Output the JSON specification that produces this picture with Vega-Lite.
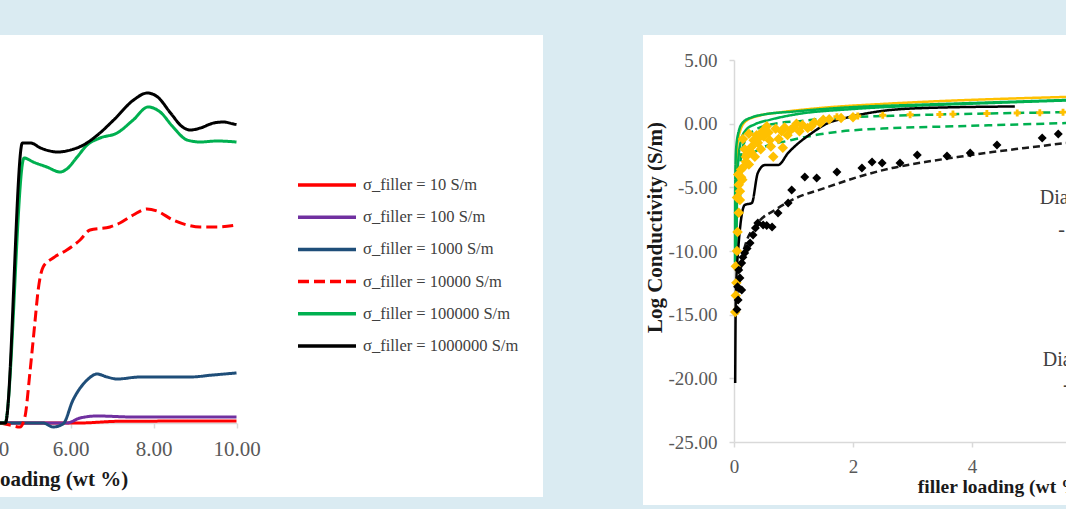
{
  "$schema": "https://vega.github.io/schema/vega-lite/v6.json",
  "background": "#daebf2",
  "padding": {"left": 0, "top": 35, "right": 0, "bottom": 4},
  "spacing": 100,
  "config": {
    "view": {"stroke": null, "fill": "white"},
    "font": "Liberation Serif",
    "axis": {"labelFont": "Liberation Serif", "titleFont": "Liberation Serif", "grid": false, "labelFlush": false, "domainColor": "#d9d9d9", "tickColor": "#d9d9d9", "labelColor": "#595959", "domainWidth": 1.5, "tickWidth": 1.5, "tickSize": 5}
  },
  "resolve": {"scale": {"color": "independent", "strokeDash": "independent", "x": "independent", "y": "independent"}},
  "hconcat": [
    {
      "width": 543,
      "height": 462,
      "layer": [
        {
          "data": {"values": [
            {"series": "σ_filler = 10 S/m", "x": 4.3, "y": -14},
            {"series": "σ_filler = 10 S/m", "x": 6.2, "y": -14},
            {"series": "σ_filler = 10 S/m", "x": 7.2, "y": -13.93},
            {"series": "σ_filler = 10 S/m", "x": 10, "y": -13.92},
            {"series": "σ_filler = 100 S/m", "x": 4.3, "y": -14},
            {"series": "σ_filler = 100 S/m", "x": 5.75, "y": -14},
            {"series": "σ_filler = 100 S/m", "x": 5.91, "y": -14},
            {"series": "σ_filler = 100 S/m", "x": 6.23, "y": -13.8},
            {"series": "σ_filler = 100 S/m", "x": 6.64, "y": -13.72},
            {"series": "σ_filler = 100 S/m", "x": 7.51, "y": -13.76},
            {"series": "σ_filler = 100 S/m", "x": 8.32, "y": -13.76},
            {"series": "σ_filler = 100 S/m", "x": 10, "y": -13.76},
            {"series": "σ_filler = 1000 S/m", "x": 4.3, "y": -14},
            {"series": "σ_filler = 1000 S/m", "x": 5.34, "y": -14},
            {"series": "σ_filler = 1000 S/m", "x": 5.58, "y": -14.16},
            {"series": "σ_filler = 1000 S/m", "x": 5.82, "y": -14.04},
            {"series": "σ_filler = 1000 S/m", "x": 6.06, "y": -13.08},
            {"series": "σ_filler = 1000 S/m", "x": 6.4, "y": -12.28},
            {"series": "σ_filler = 1000 S/m", "x": 6.64, "y": -12.04},
            {"series": "σ_filler = 1000 S/m", "x": 6.88, "y": -12.16},
            {"series": "σ_filler = 1000 S/m", "x": 7.12, "y": -12.24},
            {"series": "σ_filler = 1000 S/m", "x": 7.67, "y": -12.16},
            {"series": "σ_filler = 1000 S/m", "x": 8.32, "y": -12.16},
            {"series": "σ_filler = 1000 S/m", "x": 8.88, "y": -12.16},
            {"series": "σ_filler = 1000 S/m", "x": 9.43, "y": -12.08},
            {"series": "σ_filler = 1000 S/m", "x": 10, "y": -12.0},
            {"series": "σ_filler = 10000 S/m", "x": 4.3, "y": -14},
            {"series": "σ_filler = 10000 S/m", "x": 4.54, "y": -14.08},
            {"series": "σ_filler = 10000 S/m", "x": 4.78, "y": -14.16},
            {"series": "σ_filler = 10000 S/m", "x": 4.9, "y": -13.76},
            {"series": "σ_filler = 10000 S/m", "x": 5.02, "y": -12.0},
            {"series": "σ_filler = 10000 S/m", "x": 5.14, "y": -10.0},
            {"series": "σ_filler = 10000 S/m", "x": 5.22, "y": -8.68},
            {"series": "σ_filler = 10000 S/m", "x": 5.34, "y": -7.76},
            {"series": "σ_filler = 10000 S/m", "x": 5.58, "y": -7.4},
            {"series": "σ_filler = 10000 S/m", "x": 5.91, "y": -7.08},
            {"series": "σ_filler = 10000 S/m", "x": 6.23, "y": -6.68},
            {"series": "σ_filler = 10000 S/m", "x": 6.47, "y": -6.28},
            {"series": "σ_filler = 10000 S/m", "x": 6.95, "y": -6.16},
            {"series": "σ_filler = 10000 S/m", "x": 7.19, "y": -6.0},
            {"series": "σ_filler = 10000 S/m", "x": 7.51, "y": -5.68},
            {"series": "σ_filler = 10000 S/m", "x": 7.84, "y": -5.44},
            {"series": "σ_filler = 10000 S/m", "x": 8.08, "y": -5.52},
            {"series": "σ_filler = 10000 S/m", "x": 8.47, "y": -5.88},
            {"series": "σ_filler = 10000 S/m", "x": 8.81, "y": -6.08},
            {"series": "σ_filler = 10000 S/m", "x": 9.12, "y": -6.16},
            {"series": "σ_filler = 10000 S/m", "x": 9.53, "y": -6.16},
            {"series": "σ_filler = 10000 S/m", "x": 10, "y": -6.08},
            {"series": "σ_filler = 100000 S/m", "x": 4.3, "y": -14},
            {"series": "σ_filler = 100000 S/m", "x": 4.42, "y": -14},
            {"series": "σ_filler = 100000 S/m", "x": 4.88, "y": -3.4},
            {"series": "σ_filler = 100000 S/m", "x": 5.1, "y": -3.56},
            {"series": "σ_filler = 100000 S/m", "x": 5.43, "y": -3.76},
            {"series": "σ_filler = 100000 S/m", "x": 5.75, "y": -3.96},
            {"series": "σ_filler = 100000 S/m", "x": 5.91, "y": -3.84},
            {"series": "σ_filler = 100000 S/m", "x": 6.16, "y": -3.36},
            {"series": "σ_filler = 100000 S/m", "x": 6.4, "y": -2.88},
            {"series": "σ_filler = 100000 S/m", "x": 6.71, "y": -2.6},
            {"series": "σ_filler = 100000 S/m", "x": 7.12, "y": -2.4},
            {"series": "σ_filler = 100000 S/m", "x": 7.51, "y": -1.88},
            {"series": "σ_filler = 100000 S/m", "x": 7.87, "y": -1.36},
            {"series": "σ_filler = 100000 S/m", "x": 8.16, "y": -1.56},
            {"series": "σ_filler = 100000 S/m", "x": 8.47, "y": -2.16},
            {"series": "σ_filler = 100000 S/m", "x": 8.81, "y": -2.68},
            {"series": "σ_filler = 100000 S/m", "x": 9.12, "y": -2.76},
            {"series": "σ_filler = 100000 S/m", "x": 9.53, "y": -2.72},
            {"series": "σ_filler = 100000 S/m", "x": 10, "y": -2.76},
            {"series": "σ_filler = 1000000 S/m", "x": 4.3, "y": -14},
            {"series": "σ_filler = 1000000 S/m", "x": 4.43, "y": -14},
            {"series": "σ_filler = 1000000 S/m", "x": 4.84, "y": -2.8},
            {"series": "σ_filler = 1000000 S/m", "x": 5.04, "y": -2.8},
            {"series": "σ_filler = 1000000 S/m", "x": 5.28, "y": -3.0},
            {"series": "σ_filler = 1000000 S/m", "x": 5.69, "y": -3.16},
            {"series": "σ_filler = 1000000 S/m", "x": 6.0, "y": -3.08},
            {"series": "σ_filler = 1000000 S/m", "x": 6.31, "y": -2.88},
            {"series": "σ_filler = 1000000 S/m", "x": 6.65, "y": -2.48},
            {"series": "σ_filler = 1000000 S/m", "x": 7.04, "y": -1.88},
            {"series": "σ_filler = 1000000 S/m", "x": 7.52, "y": -1.08},
            {"series": "σ_filler = 1000000 S/m", "x": 7.85, "y": -0.8},
            {"series": "σ_filler = 1000000 S/m", "x": 8.1, "y": -0.96},
            {"series": "σ_filler = 1000000 S/m", "x": 8.41, "y": -1.6},
            {"series": "σ_filler = 1000000 S/m", "x": 8.7, "y": -2.16},
            {"series": "σ_filler = 1000000 S/m", "x": 8.89, "y": -2.28},
            {"series": "σ_filler = 1000000 S/m", "x": 9.13, "y": -2.2},
            {"series": "σ_filler = 1000000 S/m", "x": 9.45, "y": -2.0},
            {"series": "σ_filler = 1000000 S/m", "x": 9.69, "y": -1.96},
            {"series": "σ_filler = 1000000 S/m", "x": 9.93, "y": -2.04},
            {"series": "σ_filler = 1000000 S/m", "x": 10, "y": -2.06}
          ]},
          "mark": {"type": "line", "strokeWidth": 3, "interpolate": "monotone", "clip": true},
          "encoding": {
            "x": {"field": "x", "type": "quantitative", "scale": {"domain": [4.3, 10], "range": [0, 236.5], "nice": false, "zero": false},
                  "axis": {"values": [6, 8, 10], "format": ".2f", "offset": -74, "labelFontSize": 21, "labelPadding": 10, "title": null}},
            "y": {"field": "y", "type": "quantitative", "scale": {"domain": [-14, 0], "range": [388, 38], "nice": false, "zero": false}, "axis": null},
            "color": {"field": "series", "type": "nominal",
                      "sort": ["σ_filler = 10 S/m", "σ_filler = 100 S/m", "σ_filler = 1000 S/m", "σ_filler = 10000 S/m", "σ_filler = 100000 S/m", "σ_filler = 1000000 S/m"],
                      "scale": {"domain": ["σ_filler = 10 S/m", "σ_filler = 100 S/m", "σ_filler = 1000 S/m", "σ_filler = 10000 S/m", "σ_filler = 100000 S/m", "σ_filler = 1000000 S/m"],
                                "range": ["#ff0000", "#7030a0", "#1f4e79", "#ff0000", "#00b050", "#000000"]},
                      "legend": {"orient": "none", "legendX": 296, "legendY": 139, "title": null, "symbolType": "stroke", "symbolSize": 3364, "symbolStrokeWidth": 3.5, "labelFont": "Liberation Serif", "labelFontSize": 16.5, "labelColor": "#404040", "clipHeight": 22, "rowPadding": 10.2, "labelOffset": 5, "padding": 0, "labelLimit": 400}},
            "strokeDash": {"field": "series", "type": "nominal",
                      "sort": ["σ_filler = 10 S/m", "σ_filler = 100 S/m", "σ_filler = 1000 S/m", "σ_filler = 10000 S/m", "σ_filler = 100000 S/m", "σ_filler = 1000000 S/m"],
                      "scale": {"domain": ["σ_filler = 10 S/m", "σ_filler = 100 S/m", "σ_filler = 1000 S/m", "σ_filler = 10000 S/m", "σ_filler = 100000 S/m", "σ_filler = 1000000 S/m"],
                                "range": [[1, 0], [1, 0], [1, 0], [11, 5], [1, 0], [1, 0]]},
                      "legend": {"orient": "none", "legendX": 296, "legendY": 139, "title": null, "symbolType": "stroke", "symbolSize": 3364, "symbolStrokeWidth": 3.5, "labelFont": "Liberation Serif", "labelFontSize": 16.5, "labelColor": "#404040", "clipHeight": 22, "rowPadding": 10.2, "labelOffset": 5, "padding": 0, "labelLimit": 400}}
          }
        },
        {
          "data": {"values": [{"x": 3.0, "y": -16.28, "label": "filler loading (wt %)"}]},
          "mark": {"type": "text", "clip": true, "align": "left", "baseline": "middle", "font": "Liberation Serif", "fontSize": 21, "fontWeight": "bold", "color": "#1a1a1a"},
          "encoding": {
            "x": {"field": "x", "type": "quantitative", "title": null},
            "y": {"field": "y", "type": "quantitative", "axis": null},
            "text": {"field": "label"}
          }
        },
        {
          "data": {"values": [{"x": 4.08, "y": -15.08, "label": "4.00"}]},
          "mark": {"type": "text", "clip": true, "align": "center", "baseline": "middle", "font": "Liberation Serif", "fontSize": 21, "color": "#595959"},
          "encoding": {
            "x": {"field": "x", "type": "quantitative", "title": null},
            "y": {"field": "y", "type": "quantitative", "axis": null},
            "text": {"field": "label"}
          }
        }
      ]
    },
    {
      "width": 423,
      "height": 470,
      "layer": [
        {
          "data": {"values": [
            {"curve": "model yellow", "x": 0.03, "y": -6},
            {"curve": "model yellow", "x": 0.05, "y": -2},
            {"curve": "model yellow", "x": 0.1, "y": -0.6},
            {"curve": "model yellow", "x": 0.2, "y": 0.2},
            {"curve": "model yellow", "x": 0.4, "y": 0.6},
            {"curve": "model yellow", "x": 0.8, "y": 0.9},
            {"curve": "model yellow", "x": 1.5, "y": 1.25},
            {"curve": "model yellow", "x": 2.5, "y": 1.55},
            {"curve": "model yellow", "x": 3.5, "y": 1.78},
            {"curve": "model yellow", "x": 4.5, "y": 1.95},
            {"curve": "model yellow", "x": 5.58, "y": 2.1},
            {"curve": "model green 1", "x": 0.017, "y": -10.9},
            {"curve": "model green 1", "x": 0.02, "y": -5},
            {"curve": "model green 1", "x": 0.035, "y": -2},
            {"curve": "model green 1", "x": 0.08, "y": -0.6},
            {"curve": "model green 1", "x": 0.15, "y": 0.1},
            {"curve": "model green 1", "x": 0.3, "y": 0.5},
            {"curve": "model green 1", "x": 0.5, "y": 0.72},
            {"curve": "model green 1", "x": 1.0, "y": 0.95},
            {"curve": "model green 1", "x": 2.0, "y": 1.3},
            {"curve": "model green 1", "x": 3.0, "y": 1.47},
            {"curve": "model green 1", "x": 4.0, "y": 1.62},
            {"curve": "model green 1", "x": 5.58, "y": 1.86},
            {"curve": "model green 2", "x": 0.04, "y": -10.9},
            {"curve": "model green 2", "x": 0.05, "y": -6},
            {"curve": "model green 2", "x": 0.07, "y": -3},
            {"curve": "model green 2", "x": 0.12, "y": -1.3},
            {"curve": "model green 2", "x": 0.2, "y": -0.5},
            {"curve": "model green 2", "x": 0.35, "y": -0.05},
            {"curve": "model green 2", "x": 0.6, "y": 0.3},
            {"curve": "model green 2", "x": 1.0, "y": 0.7},
            {"curve": "model green 2", "x": 2.0, "y": 1.15},
            {"curve": "model green 2", "x": 3.0, "y": 1.4},
            {"curve": "model green 2", "x": 4.0, "y": 1.57},
            {"curve": "model green 2", "x": 5.58, "y": 1.82},
            {"curve": "model green dashed 1", "x": 0.08, "y": -5},
            {"curve": "model green dashed 1", "x": 0.12, "y": -2.5},
            {"curve": "model green dashed 1", "x": 0.2, "y": -1.2},
            {"curve": "model green dashed 1", "x": 0.35, "y": -0.5},
            {"curve": "model green dashed 1", "x": 0.69, "y": 0.0},
            {"curve": "model green dashed 1", "x": 1.1, "y": 0.2},
            {"curve": "model green dashed 1", "x": 1.53, "y": 0.4},
            {"curve": "model green dashed 1", "x": 2.66, "y": 0.62},
            {"curve": "model green dashed 1", "x": 3.76, "y": 0.75},
            {"curve": "model green dashed 1", "x": 4.7, "y": 0.84},
            {"curve": "model green dashed 1", "x": 5.58, "y": 0.9},
            {"curve": "model green dashed 2", "x": 0.1, "y": -6},
            {"curve": "model green dashed 2", "x": 0.13, "y": -3.4},
            {"curve": "model green dashed 2", "x": 0.4, "y": -2.07},
            {"curve": "model green dashed 2", "x": 0.97, "y": -1.28},
            {"curve": "model green dashed 2", "x": 1.82, "y": -0.6},
            {"curve": "model green dashed 2", "x": 2.66, "y": -0.35},
            {"curve": "model green dashed 2", "x": 3.76, "y": -0.2},
            {"curve": "model green dashed 2", "x": 5.58, "y": 0.05},
            {"curve": "model black", "x": 0.02, "y": -20.37},
            {"curve": "model black", "x": 0.03, "y": -13.85},
            {"curve": "model black", "x": 0.07, "y": -9.92},
            {"curve": "model black", "x": 0.18, "y": -6.39},
            {"curve": "model black", "x": 0.3, "y": -6.23},
            {"curve": "model black", "x": 0.4, "y": -3.87},
            {"curve": "model black", "x": 0.52, "y": -3.25},
            {"curve": "model black", "x": 0.74, "y": -3.25},
            {"curve": "model black", "x": 0.91, "y": -2.3},
            {"curve": "model black", "x": 1.31, "y": -0.73},
            {"curve": "model black", "x": 1.58, "y": 0.05},
            {"curve": "model black", "x": 1.87, "y": 0.44},
            {"curve": "model black", "x": 2.37, "y": 0.92},
            {"curve": "model black", "x": 3.21, "y": 1.23},
            {"curve": "model black", "x": 4.72, "y": 1.35},
            {"curve": "model black dashed", "x": 0.05, "y": -15},
            {"curve": "model black dashed", "x": 0.1, "y": -12},
            {"curve": "model black dashed", "x": 0.18, "y": -9.69},
            {"curve": "model black dashed", "x": 0.4, "y": -7.8},
            {"curve": "model black dashed", "x": 0.69, "y": -6.78},
            {"curve": "model black dashed", "x": 0.97, "y": -6.0},
            {"curve": "model black dashed", "x": 1.53, "y": -5.05},
            {"curve": "model black dashed", "x": 2.08, "y": -4.19},
            {"curve": "model black dashed", "x": 2.66, "y": -3.48},
            {"curve": "model black dashed", "x": 3.21, "y": -3.01},
            {"curve": "model black dashed", "x": 3.76, "y": -2.62},
            {"curve": "model black dashed", "x": 4.34, "y": -2.23},
            {"curve": "model black dashed", "x": 4.89, "y": -1.91},
            {"curve": "model black dashed", "x": 5.58, "y": -1.52}
          ]},
          "mark": {"type": "line", "strokeWidth": 2.5, "interpolate": "monotone", "clip": true},
          "encoding": {
            "x": {"field": "x", "type": "quantitative", "scale": {"domain": [0, 5.58], "range": [91, 423], "nice": false, "zero": false},
                  "axis": {"values": [0, 2, 4], "format": "d", "offset": -63, "labelFontSize": 19, "labelPadding": 10, "title": null}},
            "y": {"field": "y", "type": "quantitative", "scale": {"domain": [-25, 5], "range": [407, 25], "nice": false, "zero": false},
                  "title": "Log Conductivity (S/m)",
                  "axis": {"values": [-25, -20, -15, -10, -5, 0, 5], "format": ".2f", "labelExpr": "replace(datum.label, '−', '-')", "offset": -91, "labelFontSize": 19, "labelPadding": 12,
                           "title": "Log Conductivity (S/m)", "titleFontSize": 21, "titleFontWeight": "bold", "titleColor": "#1a1a1a", "titlePadding": 2, "titleY": 192}},
            "color": {"field": "curve", "type": "nominal", "legend": null,
                      "scale": {"domain": ["model yellow", "model green 1", "model green 2", "model green dashed 1", "model green dashed 2", "model black", "model black dashed"],
                                "range": ["#ffc000", "#00b050", "#00b050", "#00b050", "#00b050", "#000000", "#1a1a1a"]}},
            "strokeDash": {"field": "curve", "type": "nominal", "legend": null,
                      "scale": {"domain": ["model yellow", "model green 1", "model green 2", "model green dashed 1", "model green dashed 2", "model black", "model black dashed"],
                                "range": [[1, 0], [1, 0], [1, 0], [8, 5], [8, 5], [1, 0], [7, 4]]}}
          }
        },
        {
          "data": {"values": [
            {"x": 0.02, "y": -14.8}, {"x": 0.03, "y": -13.5}, {"x": 0.04, "y": -12.5}, {"x": 0.03, "y": -11.2},
            {"x": 0.05, "y": -10}, {"x": 0.06, "y": -8.5}, {"x": 0.08, "y": -7}, {"x": 0.1, "y": -6.0},
            {"x": 0.1, "y": -5.3}, {"x": 0.14, "y": -4.4}, {"x": 0.12, "y": -3.6}, {"x": 0.2, "y": -3.0},
            {"x": 0.22, "y": -2.4}, {"x": 0.25, "y": -3.2}, {"x": 0.3, "y": -1.8}, {"x": 0.35, "y": -2.6},
            {"x": 0.4, "y": -1.5}, {"x": 0.45, "y": -2.0}, {"x": 0.5, "y": -1.0}, {"x": 0.6, "y": -1.3},
            {"x": 0.66, "y": -2.6}, {"x": 0.82, "y": -1.9}, {"x": 0.8, "y": -0.6}, {"x": 0.9, "y": -0.9},
            {"x": 1.0, "y": -0.3}, {"x": 1.1, "y": -0.6}, {"x": 1.24, "y": -0.34}, {"x": 1.35, "y": 0.1},
            {"x": 1.5, "y": 0.3}, {"x": 0.15, "y": -1.2}, {"x": 0.25, "y": -0.8}, {"x": 0.55, "y": -0.2},
            {"x": 0.07, "y": -4.0}, {"x": 0.18, "y": -2.0}, {"x": 0.7, "y": -0.4}, {"x": 0.38, "y": -0.9},
            {"x": 0.05, "y": -5.8}, {"x": 0.08, "y": -4.8}, {"x": 0.12, "y": -4.2}, {"x": 0.16, "y": -3.4},
            {"x": 0.2, "y": -2.6}, {"x": 0.28, "y": -2.2}, {"x": 0.33, "y": -1.3}, {"x": 0.42, "y": -1.1},
            {"x": 0.48, "y": -0.6}, {"x": 0.58, "y": -0.7}, {"x": 0.62, "y": -1.8}, {"x": 0.75, "y": -1.2},
            {"x": 0.85, "y": -0.3}, {"x": 0.95, "y": -0.5}, {"x": 1.05, "y": 0.0}, {"x": 1.15, "y": -0.1},
            {"x": 1.3, "y": -0.2}, {"x": 1.45, "y": 0.05}, {"x": 1.6, "y": 0.35}, {"x": 1.8, "y": 0.45},
            {"x": 2.0, "y": 0.5}
          ]},
          "mark": {"type": "point", "filled": true, "shape": "diamond", "size": 110, "opacity": 1, "color": "#ffc000", "clip": true},
          "encoding": {
            "x": {"field": "x", "type": "quantitative", "title": null},
            "y": {"field": "y", "type": "quantitative", "title": "Log Conductivity (S/m)"}
          }
        },
        {
          "data": {"values": [
            {"x": 1.73, "y": 0.55}, {"x": 2.08, "y": 0.6}, {"x": 2.5, "y": 0.66}, {"x": 2.96, "y": 0.7},
            {"x": 3.46, "y": 0.72}, {"x": 3.68, "y": 0.75}, {"x": 4.25, "y": 0.8}, {"x": 4.76, "y": 0.84},
            {"x": 5.14, "y": 0.86}, {"x": 5.53, "y": 0.9}
          ]},
          "mark": {"type": "point", "filled": true, "shape": "cross", "size": 50, "opacity": 1, "color": "#ffc000", "clip": true},
          "encoding": {
            "x": {"field": "x", "type": "quantitative", "title": null},
            "y": {"field": "y", "type": "quantitative", "title": "Log Conductivity (S/m)"}
          }
        },
        {
          "data": {"values": [
            {"x": 0.05, "y": -14.6}, {"x": 0.07, "y": -13.85}, {"x": 0.06, "y": -12.8}, {"x": 0.13, "y": -13.06},
            {"x": 0.1, "y": -12.12}, {"x": 0.08, "y": -11.5}, {"x": 0.13, "y": -10.94}, {"x": 0.15, "y": -10.5},
            {"x": 0.18, "y": -10.16}, {"x": 0.22, "y": -9.8}, {"x": 0.27, "y": -9.37}, {"x": 0.32, "y": -8.74},
            {"x": 0.36, "y": -8.2}, {"x": 0.4, "y": -7.8}, {"x": 0.49, "y": -7.96}, {"x": 0.55, "y": -8.0},
            {"x": 0.64, "y": -8.12}, {"x": 0.74, "y": -7.02}, {"x": 0.91, "y": -6.23}, {"x": 0.97, "y": -5.21},
            {"x": 1.19, "y": -4.19}, {"x": 1.39, "y": -4.27}, {"x": 1.73, "y": -3.8}, {"x": 2.15, "y": -3.48},
            {"x": 2.32, "y": -3.01}, {"x": 2.49, "y": -3.09}, {"x": 2.79, "y": -3.09}, {"x": 3.08, "y": -2.46},
            {"x": 3.58, "y": -2.54}, {"x": 3.97, "y": -2.3}, {"x": 4.42, "y": -1.68}, {"x": 5.18, "y": -1.13},
            {"x": 5.45, "y": -0.81}
          ]},
          "mark": {"type": "point", "filled": true, "shape": "diamond", "size": 80, "opacity": 1, "color": "#000000", "clip": true},
          "encoding": {
            "x": {"field": "x", "type": "quantitative", "title": null},
            "y": {"field": "y", "type": "quantitative", "title": "Log Conductivity (S/m)"}
          }
        },
        {
          "data": {"values": [
            {"x": 5.14, "y": -5.84, "label": "Diameter"},
            {"x": 5.45, "y": -8.35, "label": "-"},
            {"x": 5.19, "y": -18.56, "label": "Diameter"},
            {"x": 5.53, "y": -20.5, "label": "-"}
          ]},
          "mark": {"type": "text", "clip": true, "align": "left", "baseline": "middle", "font": "Liberation Serif", "fontSize": 20, "color": "#404040"},
          "encoding": {
            "x": {"field": "x", "type": "quantitative", "title": null},
            "y": {"field": "y", "type": "quantitative", "title": "Log Conductivity (S/m)"},
            "text": {"field": "label"}
          }
        },
        {
          "data": {"values": [{"x": 3.09, "y": -28.53, "label": "filler loading (wt %)"}]},
          "mark": {"type": "text", "clip": true, "align": "left", "baseline": "middle", "font": "Liberation Serif", "fontSize": 19.5, "fontWeight": "bold", "color": "#1a1a1a"},
          "encoding": {
            "x": {"field": "x", "type": "quantitative", "title": null},
            "y": {"field": "y", "type": "quantitative", "title": "Log Conductivity (S/m)"},
            "text": {"field": "label"}
          }
        }
      ]
    }
  ]
}
